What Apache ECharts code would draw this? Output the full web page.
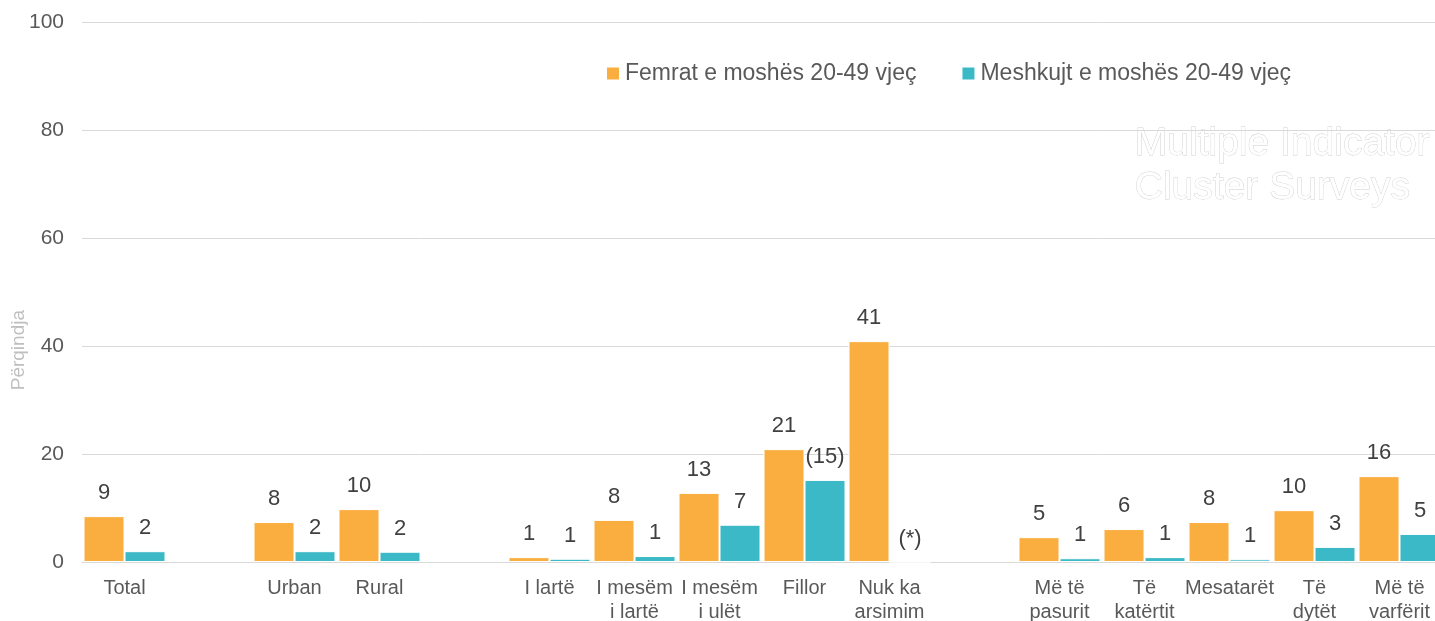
<!DOCTYPE html>
<html lang="sq">
<head>
    <meta charset="UTF-8">
    <script src="https://cdn.jsdelivr.net/npm/echarts@6/dist/echarts.min.js"></script>
    <title>Femrat dhe meshkujt 20-49</title>
    <style>
        html, body { margin: 0; padding: 0; background: #fff; }
    </style>
</head>
<body>
    <div id="chart" style="width: 1435px;height:621px;"></div>
    <script type="text/javascript">
        // categories (empty strings = gaps between groups)
        var categories = ['Total', '', 'Urban', 'Rural', '', 'I lartë', 'I mesëm\ni lartë', 'I mesëm\ni ulët', 'Fillor', 'Nuk ka\narsimim',
            '', 'Më të\npasurit', 'Të\nkatërtit', 'Mesatarët', 'Të\ndytët', 'Më të\nvarfërit'];
        var femrat = [8.5, '-', 7.4, 9.8, '-', 0.9, 7.8, 12.8, 20.9, 40.9, '-', 4.6, 6.1, 7.4, 9.6, 15.9];
        var meshkujt = [2.0, '-', 2.0, 1.9, '-', 0.6, 1.1, 6.9, 15.2, 0, '-', 0.7, 0.9, 0.5, 2.8, 5.2];
        var femratLabels = ['9', '', '8', '10', '', '1', '8', '13', '21', '41', '', '5', '6', '8', '10', '16'];
        var meshkujtLabels = ['2', '', '2', '2', '', '1', '1', '7', '(15)', '(*)', '', '1', '1', '1', '3', '5'];
        var yTicks = [0, 20, 40, 60, 80, 100];

        var chart = echarts.init(document.getElementById('chart'));
        var font = 'Liberation Sans';
        var labelStyle = function (arr) {
            return {
                show: true,
                position: 'top',
                distance: 12,
                fontFamily: font,
                fontSize: 22,
                color: '#404040',
                formatter: function (p) { return arr[p.dataIndex]; }
            };
        };

        var option = {
            animation: false,
            backgroundColor: '#fff',
            textStyle: { fontFamily: font },
            legend: {
                top: 57,
                left: 600,
                itemWidth: 14,
                itemHeight: 14,
                itemGap: 44,
                icon: 'rect',
                textStyle: { fontSize: 23, color: '#595959', fontFamily: font },
                data: ['Femrat e moshës 20-49 vjeç', 'Meshkujt e moshës 20-49 vjeç']
            },
            graphic: [
                {
                    type: 'text',
                    right: 5,
                    top: 122,
                    style: {
                        text: 'Multiple Indicator\nCluster Surveys',
                        align: 'right',
                        font: '39px "Liberation Sans"',
                        lineHeight: 44,
                        fill: '#fff',
                        stroke: '#cfcfcf',
                        lineWidth: 0.8
                    }
                },
                {
                    type: 'text',
                    left: 9,
                    top: 310,
                    rotation: Math.PI / 2,
                    style: {
                        text: 'Përqindja',
                        font: '19px "Liberation Sans"',
                        fill: '#bfbfbf'
                    }
                }
            ],
            grid: {
                left: 82,
                top: 22,
                width: 1360,
                height: 540,
                outerBoundsMode: 'none'
            },
            xAxis: {
                type: 'category',
                data: categories,
                axisTick: { show: false },
                axisLine: { lineStyle: { color: '#d9d9d9' } },
                axisLabel: {
                    interval: 0,
                    margin: 14,
                    fontSize: 20,
                    lineHeight: 24,
                    color: '#595959',
                    fontFamily: font
                }
            },
            yAxis: {
                type: 'value',
                min: yTicks[0],
                max: yTicks[yTicks.length - 1],
                interval: 20,
                axisLine: { show: false },
                axisTick: { show: false },
                splitLine: { lineStyle: { color: '#d9d9d9' } },
                axisLabel: {
                    margin: 18,
                    fontSize: 21,
                    color: '#595959',
                    fontFamily: font
                }
            },
            series: [
                {
                    name: 'Femrat e moshës 20-49 vjeç',
                    type: 'bar',
                    data: femrat,
                    barWidth: 41,
                    barGap: '0%',
                    itemStyle: { color: '#FBAE40', borderColor: '#fff', borderWidth: 1 },
                    label: labelStyle(femratLabels)
                },
                {
                    name: 'Meshkujt e moshës 20-49 vjeç',
                    type: 'bar',
                    data: meshkujt,
                    barWidth: 41,
                    barGap: '0%',
                    itemStyle: { color: '#3BB9C6', borderColor: '#fff', borderWidth: 1 },
                    label: labelStyle(meshkujtLabels)
                }
            ]
        };
        chart.setOption(option);
    </script>
</body>
</html>
